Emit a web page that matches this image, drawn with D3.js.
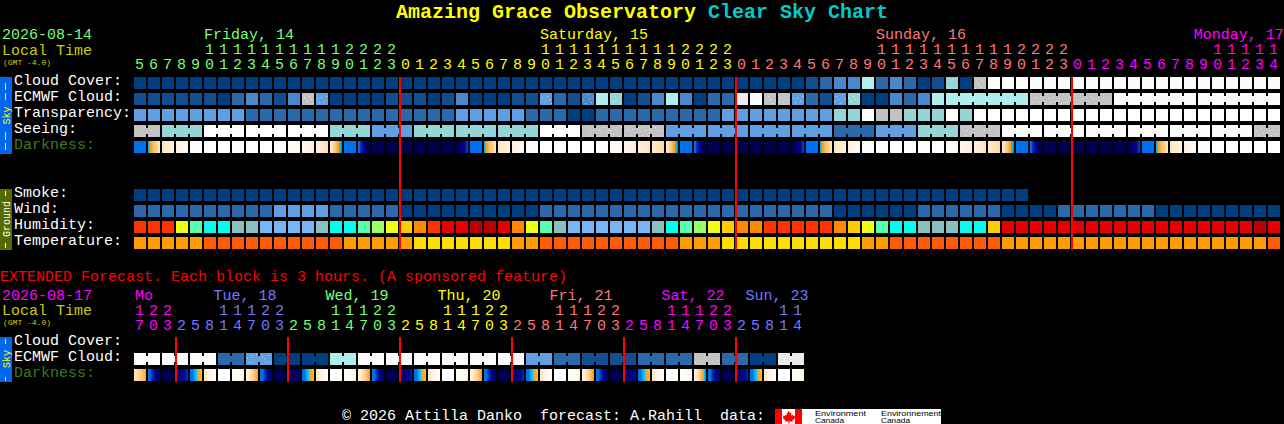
<!DOCTYPE html>
<html><head><meta charset="utf-8">
<script src="https://cdn.jsdelivr.net/npm/d3@7"></script>
<style>
html,body{margin:0;padding:0;background:#000;overflow:hidden}
svg{display:block}
text{font-family:"Liberation Mono",monospace;font-size:15px;white-space:pre}
</style></head><body><svg id="c" width="1284" height="424"></svg>
<script>
// ---- data: sky condition level per block, 0 = best (dark blue) ... 10 = worst (white)
const cloudCover = [0,0,0,0,0,0,0,0,0,0,0,0,0,0,0,0,0,0,0,0,0,0,0,0,0,0,0,0,0,0,0,0,0,0,0,0,0,0,0,0,0,0,0,0,0,0,0,0,1,2,3,3,6,2,3,2,0,1,5,0,7,10,10,10,9,9,9,9,9,9,9,9,9,9,9,9,9,9,9,9,9,9];
const ecmwfCloud = [1,1,1,1,1,1,0,2,3,2,1,3,7,4,0,0,0,0,1,1,1,0,1,3,0,0,0,1,1,4,2,1,3,6,5,0,1,3,6,3,0,2,2,8,9,7,7,4,2,1,4,5,0,0,3,2,3,6,6,6,6,6,6,6,7,7,7,7,7,7,9,9,9,9,9,9,9,9,9,9,9,9];
const transparency = [4,4,4,4,4,4,4,4,2,2,2,2,2,2,2,2,2,2,2,2,2,2,2,4,4,4,4,4,2,2,2,0,0,2,2,2,2,2,2,2,2,2,4,4,4,4,4,4,4,4,5,5,10,7,7,5,5,5,10,5,10,10,10,10,10,10,10,10,10,10,10,10,10,10,10,10,10,10,10,10,10,10];
const seeing = [7,7,5,5,5,10,10,10,10,10,10,10,10,10,5,5,5,4,4,4,5,5,5,5,5,5,5,5,5,10,10,10,7,7,7,7,7,7,4,4,4,4,4,4,4,4,4,4,4,4,2,2,2,4,4,4,5,5,5,7,7,7,9,9,9,9,9,9,9,9,9,9,9,9,9,9,9,9,9,9,7,7];
const smoke = [0,0,0,0,0,0,0,0,0,0,0,0,0,0,0,0,0,0,0,0,0,0,0,0,0,0,0,0,0,0,0,0,0,0,0,0,0,0,0,0,0,0,0,0,0,0,0,0,0,0,0,0,0,0,0,0,0,0,0,0,0,0,0,0];
const wind = [2,2,2,2,2,2,2,2,2,2,4,4,4,4,2,2,2,2,2,0,0,0,0,0,0,0,0,0,0,2,2,2,2,2,2,2,2,2,2,2,2,2,2,2,2,2,2,2,2,2,0,0,0,0,0,0,2,2,2,2,2,2,0,0,0,0,2,2,2,2,2,2,2,0,0,0,0,0,0,0,0,0];
// relative humidity band per block (0 = driest ... 10 = wettest)
const humidity = [8,8,8,5,3,2,2,1,1,0,0,0,0,1,2,2,3,4,5,6,7,8,9,9,10,10,9,7,5,3,1,0,0,0,0,0,0,1,2,3,4,5,6,7,7,8,8,8,8,8,7,6,5,3,2,2,1,1,1,2,2,6,9,9,9,9,9,9,9,9,9,9,9,9,9,9,9,9,9,9,10,9];
// temperature band per block
const temperature = [1,1,1,1,1,0,0,0,0,0,0,0,0,0,0,1,1,1,1,1,2,2,2,2,2,2,2,1,1,0,0,0,0,0,0,0,0,0,0,1,1,1,2,2,2,2,2,2,2,2,2,2,1,1,0,0,0,0,0,0,0,0,1,1,1,1,1,1,1,1,1,1,1,1,1,1,1,1,1,1,1,0];
// darkness: sky brightness value at the left / right edge of each block
const darkFrom = [1,0.3,-2,-2.8,-3.5,-4,-4,-4,-4,-4,-4,-3.7,-3.2,-2.8,-2.4,1,1,5,5,5,5,5,5,5,1,0.3,-2,-2.8,-3.5,-4,-4,-4,-4,-4,-3.7,-3.2,-2.8,-2.4,-2.4,1,1,5,5,5,5,5,5,5,1,0.3,-2,-2.8,-3.5,-4,-4,-4,-4,-4,-3.9,-3.2,-2.8,-2.4,-2.4,1,1,5,5,5,5,5,5,5,1,0.3,-2,-2.8,-3.5,-4,-4,-4,-4,-4];
const darkTo = [1,-2.2,-2.9,-3.5,-4,-4,-4,-4,-4,-4,-3.7,-3.2,-2.6,-1.8,0.6,1,5,5,5,5,5,5,5,1.6,1,-2.2,-2.9,-3.5,-4,-4,-4,-4,-4,-4,-3.2,-2.6,-2,-1.6,0.6,1,5,5,5,5,5,5,5,1.6,1,-2.2,-2.9,-3.5,-4,-4,-4,-4,-4,-3.9,-3.2,-2.6,-2,-1.6,0.6,1,5,5,5,5,5,5,5,1.6,1,-2.2,-2.9,-3.5,-4,-4,-4,-4,-4,-4];
// extended forecast: one value per 6 hours for cloud, per 3 hours for darkness
const extEcmwf = [9,9,9,2,4,0,0,6,9,9,9,9,9,9,4,2,1,1,2,2,7,2,0,8];
const extDarkFrom = [-2.2,1,5,3.4,1,-2,-4,-3.6,-3,0.8,5,4.5,1,-2,-4,-3.8,-3,0.8,5,4,1,-2.2,-4,-3.6,-3,0.8,5,4,1,-2.2,-4,-3.6,-3,0.8,5,4,1,-2.2,-4,-3.8,-3,0.8,5,3.6,1,-2.2,-4,-3.6];
const extDarkTo = [-0.4,3.8,5,2,-0.8,-4,-4,-3,-0.1,3.6,5,4,-0.8,-3.8,-4,-3,-0.1,3.8,5,2.2,-0.8,-3.8,-4,-3,-0.1,3.8,5,2,-0.8,-3.8,-4,-3,0,3.8,5,2.6,-0.8,-3.8,-4,-3,0.6,3.8,5,2.2,-0.8,-3.8,-4,-3];
// speckled blocks
const cloudSpeck = [48,52,57,58,60];
const ecmwfSpeck = [12,13,29,32,34,45,46,47,50,51,64,65,66,67,68,69];
const seeingSpeck = [0,1,32,33,34,35,36,37,59,60,61,80,81];
const extSpeck = [4,20];
// ---- time axis
const mainHours = [5,6,7,8,9,10,11,12,13,14,15,16,17,18,19,20,21,22,23,0,1,2,3,4,5,6,7,8,9,10,11,12,13,14,15,16,17,18,19,20,21,22,23,0,1,2,3,4,5,6,7,8,9,10,11,12,13,14,15,16,17,18,19,20,21,22,23,0,1,2,3,4,5,6,7,8,9,10,11,12,13,14];
const mainHourDay = [0,0,0,0,0,0,0,0,0,0,0,0,0,0,0,0,0,0,0,1,1,1,1,1,1,1,1,1,1,1,1,1,1,1,1,1,1,1,1,1,1,1,1,2,2,2,2,2,2,2,2,2,2,2,2,2,2,2,2,2,2,2,2,2,2,2,2,3,3,3,3,3,3,3,3,3,3,3,3,3,3,3];
const mainDayNames = ["Friday, 14","Saturday, 15","Sunday, 16","Monday, 17"];
const mainDayCols = [5,29,53,75.7];
const extHours = [17,20,23,2,5,8,11,14,17,20,23,2,5,8,11,14,17,20,23,2,5,8,11,14,17,20,23,2,5,8,11,14,17,20,23,2,5,8,11,14,17,20,23,2,5,8,11,14];
const extHourDay = [0,0,0,1,1,1,1,1,1,1,1,2,2,2,2,2,2,2,2,3,3,3,3,3,3,3,3,4,4,4,4,4,4,4,4,5,5,5,5,5,5,5,5,6,6,6,6,6];
const extDayNames = ["Mo","Tue, 18","Wed, 19","Thu, 20","Fri, 21","Sat, 22","Sun, 23"];
const extDayCols = [0,5.6,13.6,21.6,29.6,37.6,43.6];
const mainMidnights = [19,43,67];
const extMidnights = [3,11,19,27,35,43];
const skyLabels = ["Cloud Cover:","ECMWF Cloud:","Transparency:","Seeing:","Darkness:"];
const groundLabels = ["Smoke:","Wind:","Humidity:","Temperature:"];
const extLabels = ["Cloud Cover:","ECMWF Cloud:","Darkness:"];

// ---- palettes
const levelColors = ["#003F7F","#134F90","#2B69AB","#4A88CB","#5F9FE2","#95D5D5","#AFEEEE","#C2C2C2","#EAEAEA","#FBFBFB","#FFFFFF"];
const humidityColors = ["#77B5F5","#88BFBF","#00FFEE","#55FFB0","#99FF66","#EEFF11","#FFCC00","#FF8800","#FF3300","#E60000","#B90000"];
const temperatureColors = ["#FF5C00","#FF9E00","#FFDD00"];
const dayColors = ["#77FF77","#FFFF00","#FF7777","#FF00FF"];
const extDayColors = ["#FF00FF","#7777FF","#77FF77","#FFFF00","#FF7777","#FF00FF","#7777FF"];

const level = d3.scaleOrdinal(d3.range(11), levelColors);
const hum = d3.scaleOrdinal(d3.range(11), humidityColors);
const temp = d3.scaleOrdinal(d3.range(3), temperatureColors);
const darkScale = d3.scaleLinear()
  .domain([-4,-3.2,-2.2,-1.2,-0.4,-0.15,0,0.3,0.6,1.4,1.8,2.4,3.2,5])
  .range(["#FFFFFF","#FFF8EE","#FFE8C8","#FFCB85","#FFA81E","#F8A010","#00CCFF","#00B0FF","#0070EE","#0070EE","#0040C0","#001090","#00007A","#000050"]);

// ---- geometry via scales
const BLOCK = 12;
const x = d3.scaleLinear().domain([0,82]).range([134,134+14*82]);
const y = d3.scaleLinear().domain([0,1]).range([77,93]);
const yExt = d3.scaleLinear().domain([0,1]).range([337,353]);

const svg = d3.select("#c");
const defs = svg.append("defs");
[["speckL","#fff",0.55],["speckD","#0a2f60",0.55]].forEach(([id,c,o])=>{
  const p = defs.append("pattern").attr("id",id).attr("patternUnits","userSpaceOnUse").attr("width",17).attr("height",11);
  [[1,2],[5,0],[9,6],[13,3],[3,8],[15,9],[7,4],[11,10]].forEach(([a,b])=>
    p.append("rect").attr("x",a).attr("y",b).attr("width",1).attr("height",1).attr("fill",c).attr("opacity",o));
});

function txt(s,px,py,fill,extra){
  const t = svg.append("text").attr("x",px).attr("y",py).attr("fill",fill).text(s);
  if(extra) extra(t);
  return t;
}

// title
const title = svg.append("text").attr("x",396).attr("y",18).style("font-size","20px").style("font-weight","bold");
title.append("tspan").attr("fill","#FFFF00").text("Amazing Grace Observatory ");
title.append("tspan").attr("fill","#00CCCC").text("Clear Sky Chart");

// plain block row
function blocks(vals,row,scale,speck,yS,group){
  const g = svg.append("g").attr("shape-rendering","crispEdges");
  const ys = yS||y;
  vals.forEach((v,i)=>{
    g.append("rect").attr("x",x(i)).attr("y",ys(row)).attr("width",BLOCK).attr("height",BLOCK).attr("fill",scale(v));
    if(speck&&speck.includes(i)) g.append("rect").attr("x",x(i)).attr("y",ys(row)).attr("width",BLOCK).attr("height",BLOCK)
      .attr("fill",v<=2?"url(#speckD)":"url(#speckL)");
  });
  if(group) group.forEach(([a,b])=>{
    for(let i=a;i<b;i++) g.append("rect").attr("x",x(i)+BLOCK).attr("y",ys(row)+3).attr("width",2).attr("height",6).attr("fill",scale(vals[i]));
  });
}
// connector groups: seeing comes in 3-block runs, ECMWF tail in 6-block runs
const seeingGroups = [[0,1]].concat(d3.range(2,80,3).map(a=>[a,a+2]),[[80,81]]);
const ecmwfGroups = d3.range(58,82,6).map(a=>[a,a+5]);
const extGroups = d3.range(24).map(i=>[i*2,i*2+1]);

blocks(cloudCover,0,level,cloudSpeck);
blocks(ecmwfCloud,1,level,ecmwfSpeck,null,ecmwfGroups);
blocks(transparency,2,level);
blocks(seeing,3,level,seeingSpeck,null,seeingGroups);
blocks(smoke,7,level);
blocks(wind,8,level);
blocks(humidity,9,hum);
blocks(temperature,10,temp);
blocks(extEcmwf.flatMap(v=>[v,v]),1,level,extSpeck.flatMap(i=>[i*2,i*2+1]),yExt,extGroups);

// darkness row: pixel strips across every block
function darkRow(from,to,row,ys){
  const g = svg.append("g").attr("shape-rendering","crispEdges");
  from.forEach((f,i)=>{
    d3.range(BLOCK).forEach(k=>{
      const v = f+(to[i]-f)*(k+0.5)/BLOCK;
      g.append("rect").attr("x",x(i)+k).attr("y",ys(row)).attr("width",1).attr("height",BLOCK).attr("fill",darkScale(v));
    });
  });
}
darkRow(darkFrom,darkTo,4,y);
darkRow(extDarkFrom,extDarkTo,2,yExt);

// midnight lines
function redLine(col,y0,y1){
  svg.append("rect").attr("x",x(col)-1).attr("y",y0).attr("width",2).attr("height",y1-y0).attr("fill","#FF0000").attr("shape-rendering","crispEdges");
}
mainMidnights.forEach(c=>redLine(c,y(0),250));
extMidnights.forEach(c=>redLine(c,yExt(0),382));

// hour axis
function hourAxis(hours,days,colors,baseTens,baseOnes){
  hours.forEach((h,i)=>{
    const c = colors[days[i]];
    if(h>=10) txt(String(Math.floor(h/10)),x(i)+1,baseTens,c);
    txt(String(h%10),x(i)+1,baseOnes,c);
  });
}
hourAxis(mainHours,mainHourDay,dayColors,54,69);
hourAxis(extHours,extHourDay,extDayColors,315,330);
mainDayNames.forEach((n,i)=>txt(n,x(mainDayCols[i]),39,dayColors[i]));
extDayNames.forEach((n,i)=>txt(n,x(extDayCols[i])+1,300,extDayColors[i]));

// left headers
txt("2026-08-14",2,39,"#77FF77");
txt("Local Time",2,55,"#CCCC00");
txt("(GMT -4.0)",3,65,"#CCCC00",t=>t.style("font-size","8px"));
txt("2026-08-17",2,300,"#FF00FF");
txt("Local Time",2,315,"#CCCC00");
txt("(GMT -4.0)",3,325,"#CCCC00",t=>t.style("font-size","8px"));
txt("EXTENDED Forecast. Each block is 3 hours. (A sponsored feature)",0,281,"#FF0000");

// row labels
skyLabels.forEach((l,i)=>txt(l,14,y(i)+8,i===4?"#3C7A1E":"#FFFFFF"));
groundLabels.forEach((l,i)=>txt(l,14,y(i+7)+8,"#FFFFFF"));
extLabels.forEach((l,i)=>txt(l,14,yExt(i)+8,i===2?"#3C7A1E":"#FFFFFF"));

// side bars
function sideBar(y0,y1,fill,color,label,cy,dashes){
  const g = svg.append("g");
  g.append("rect").attr("x",0).attr("y",y0).attr("width",12).attr("height",y1-y0).attr("fill",fill).attr("shape-rendering","crispEdges");
  dashes.forEach(([a,b])=>g.append("rect").attr("x",5).attr("y",a).attr("width",1).attr("height",b-a).attr("fill",color).attr("shape-rendering","crispEdges"));
  g.append("text").attr("transform",`translate(9.5,${cy}) rotate(-90)`).attr("text-anchor","middle").attr("fill",color).style("font-size","10px").text(label);
}
sideBar(77,154,"#0066EE","#FFFF00","Sky",115.5,[[83,90],[93,100],[132,140],[143,150]]);
sideBar(189,250,"#556B00","#FFFFFF","Ground",219,[[191,196],[243,248]]);
sideBar(337,382,"#0066EE","#FFFF00","Sky",359,[[339,344],[377,381]]);

// footer
txt("© 2026 Attilla Danko  forecast: A.Rahill  data:",342,420,"#FFFFFF");
const logo = svg.append("g");
logo.append("rect").attr("x",775).attr("y",409).attr("width",166).attr("height",15).attr("fill","#FFF");
logo.append("rect").attr("x",775).attr("y",409).attr("width",7).attr("height",15).attr("fill","#F00");
logo.append("rect").attr("x",795).attr("y",409).attr("width",7).attr("height",15).attr("fill","#F00");
logo.append("path").attr("fill","#F00").attr("d","M788.5 410.5l1.6 2.6 1.4-.6-.6 3 1.8-1 .5 1.4 2-.3-.7 2.2.8.5-3 2.2.4 1.2-3.2-.4v2.2h-1v-2.2l-3.2.4.4-1.2-3-2.2.8-.5-.7-2.2 2 .3.5-1.4 1.8 1-.6-3 1.4.6z");
[["Environment",815,51],["Environnement",881,60]].forEach(([s,px,w])=>{
  logo.append("text").attr("x",px).attr("y",416).attr("fill","#000").attr("textLength",w).attr("lengthAdjust","spacingAndGlyphs").style("font-family","'Liberation Sans'").style("font-size","8px").text(s);
  logo.append("text").attr("x",px).attr("y",423).attr("fill","#000").attr("textLength",29).attr("lengthAdjust","spacingAndGlyphs").style("font-family","'Liberation Sans'").style("font-size","8px").text("Canada");
});
</script></body></html>
